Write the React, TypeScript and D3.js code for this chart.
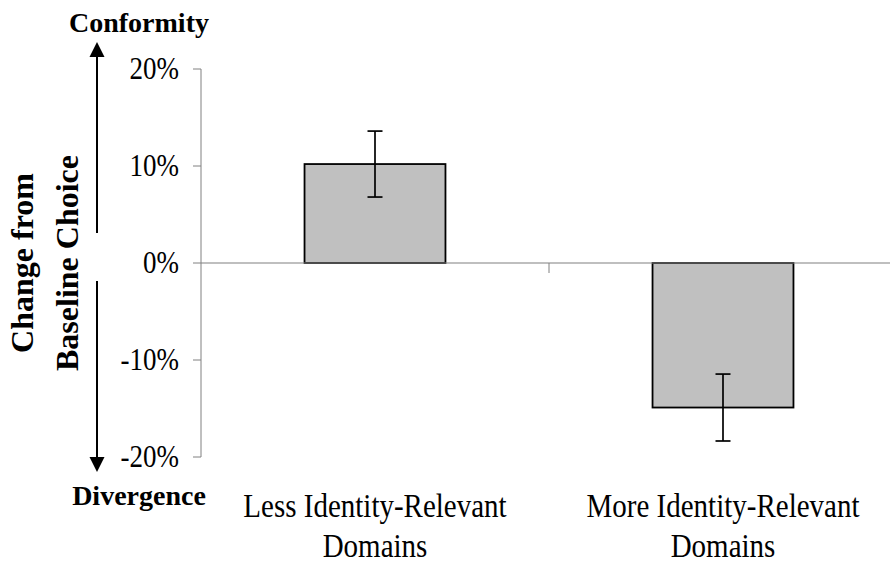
import React from 'react';
import * as d3 from 'd3';

const categories = [
  ['Less Identity-Relevant', 'Domains'],
  ['More Identity-Relevant', 'Domains'],
];
const means = [10.2, -14.9];
const errors = [3.4, 3.45];
const yTicks = [20, 10, 0, -10, -20];

const width = 890;
const height = 570;
const left = 201;
const right = 897;
const serif = "'Liberation Serif', Tinos, 'Times New Roman', Times, 'DejaVu Serif', serif";
// the reference glyphs are a little taller than the font's own shape
const stretch = 1.15;

const App = () => {
  const y = d3.scaleLinear().domain([-20, 20]).range([457, 69]);
  const x = d3
    .scaleBand<number>()
    .domain(d3.range(categories.length))
    .range([left, right])
    .paddingInner(0.595)
    .paddingOuter(0.2975);
  const step = x.step();
  const center = (i: number) => (x(i) as number) + x.bandwidth() / 2;

  const arrowX = 97;
  const head = (tip: number, dir: number) =>
    d3.line()([
      [arrowX - 7.5, tip + dir * 15],
      [arrowX, tip],
      [arrowX + 7.5, tip + dir * 15],
    ]) + 'Z';

  const txt = (size: number, bold = false) => ({
    fontFamily: serif,
    fontSize: size,
    fontWeight: bold ? 'bold' : 'normal',
  });

  return (
    <svg
      width={width}
      height={height}
      style={{ position: 'absolute', left: 0, top: 0, background: '#fff' }}
    >
      {/* bars */}
      {means.map((m, i) => (
        <rect
          key={i}
          x={x(i)}
          y={y(Math.max(0, m))}
          width={x.bandwidth()}
          height={Math.abs(y(m) - y(0))}
          fill="#c0c0c0"
          stroke="#000"
          strokeWidth={1.8}
        />
      ))}

      {/* axes */}
      <line x1={left} x2={left} y1={y(20)} y2={y(-20)} stroke="#808080" strokeWidth={1} />
      <line x1={left} x2={right} y1={y(0)} y2={y(0)} stroke="#808080" strokeWidth={1.2} />
      {yTicks.map((t) => (
        <g key={t}>
          <line x1={left - 8} x2={left} y1={y(t)} y2={y(t)} stroke="#808080" />
          <text
            transform={`translate(179, ${y(t) + 9.5}) scale(1, ${stretch})`}
            textAnchor="end"
            fill="#000"
            style={txt(27)}
          >
            {t + '%'}
          </text>
        </g>
      ))}
      {d3.range(1, categories.length).map((i) => (
        <line
          key={i}
          x1={left + step * i}
          x2={left + step * i}
          y1={y(0)}
          y2={y(0) + 10}
          stroke="#808080"
        />
      ))}

      {/* error bars */}
      {means.map((m, i) => {
        const cx = center(i);
        return (
          <g key={i} stroke="#000" strokeWidth={1.7}>
            <line x1={cx} x2={cx} y1={y(m + errors[i])} y2={y(m - errors[i])} />
            <line x1={cx - 7.5} x2={cx + 7.5} y1={y(m + errors[i])} y2={y(m + errors[i])} />
            <line x1={cx - 7.5} x2={cx + 7.5} y1={y(m - errors[i])} y2={y(m - errors[i])} />
          </g>
        );
      })}

      {/* category labels */}
      {categories.map((lines, i) => (
        <text
          key={i}
          transform={`translate(${center(i)}, 517) scale(1, ${stretch})`}
          textAnchor="middle"
          fill="#000"
          style={txt(29)}
        >
          {lines.map((l, j) => (
            <tspan key={j} x={0} y={(j * 40) / stretch}>
              {l}
            </tspan>
          ))}
        </text>
      ))}

      {/* direction arrows */}
      <line x1={arrowX} x2={arrowX} y1={233} y2={52} stroke="#000" strokeWidth={2} />
      <path d={head(42, 1)} fill="#000" />
      <line x1={arrowX} x2={arrowX} y1={281} y2={462} stroke="#000" strokeWidth={2} />
      <path d={head(472, -1)} fill="#000" />

      <text x={139} y={32} textAnchor="middle" style={txt(28, true)}>
        Conformity
      </text>
      <text x={139} y={505} textAnchor="middle" style={txt(28, true)}>
        Divergence
      </text>

      {/* y axis title */}
      <text transform={`translate(33, ${y(0)}) rotate(-90)`} textAnchor="middle" style={txt(32, true)}>
        Change from
      </text>
      <text transform={`translate(78, ${y(0)}) rotate(-90)`} textAnchor="middle" style={txt(32, true)}>
        Baseline Choice
      </text>
    </svg>
  );
};

export default App;
